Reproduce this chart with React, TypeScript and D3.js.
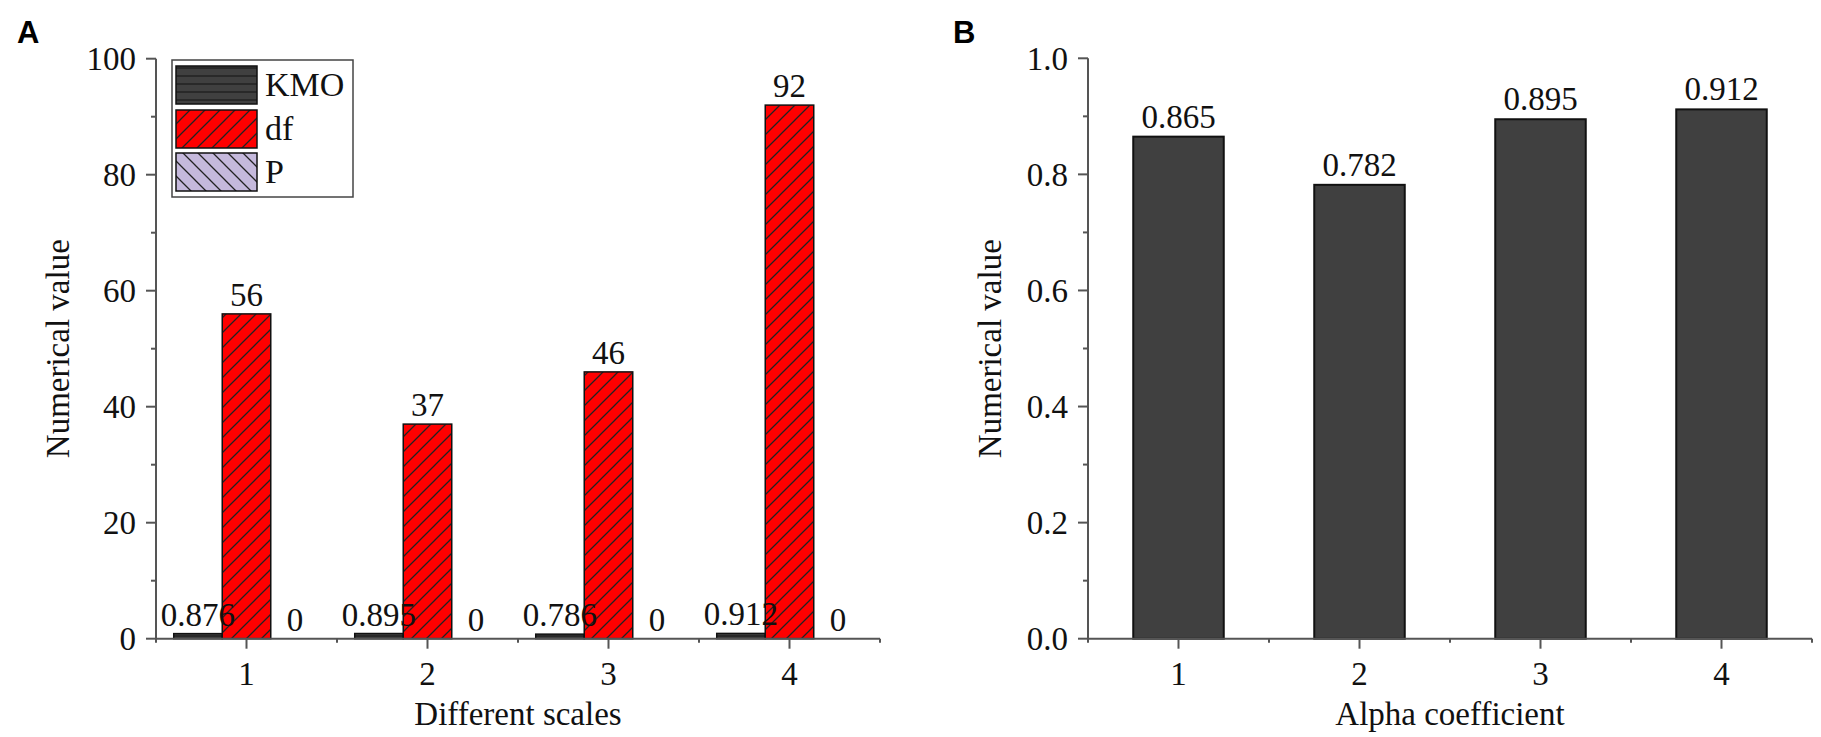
import React from "react"
import * as d3 from "d3"

// panel A: KMO / df / P per scale
const SCALES = [1, 2, 3, 4]
const KMO = [0.876, 0.895, 0.786, 0.912]
const DF = [56, 37, 46, 92]
const P = [0, 0, 0, 0]
const A_TICKS = [0, 20, 40, 60, 80, 100]

// panel B: alpha coefficient per scale
const ALPHA = [0.865, 0.782, 0.895, 0.912]
const B_TICKS = [0, 0.2, 0.4, 0.6, 0.8, 1.0]

const FONT = "'Liberation Serif', 'Times New Roman', serif"
const AXIS = "#555"
const BOTTOM = 638.7
const TOP = 58.7

const SERIES = [
    { name: "KMO", values: KMO, fill: "url(#hatchKMO)", fmt: (v: number) => v.toFixed(3) },
    { name: "df", values: DF, fill: "url(#hatchDF)", fmt: (v: number) => String(v) },
    { name: "P", values: P, fill: "url(#hatchP)", fmt: (v: number) => String(v) },
]

type AxisProps = {
    x: d3.ScaleLinear<number, number>
    y: d3.ScaleLinear<number, number>
    ticks: number[]
    fmt: (v: number) => string
    xLabel: string
    yLabelX: number
}

const Axes = ({ x, y, ticks, fmt, xLabel, yLabelX }: AxisProps) => {
    const [x0, x1] = x.range()
    const step = ticks[1] - ticks[0]
    const minorY = ticks.slice(1).map((t) => t - step / 2)
    const minorX = SCALES.map((s) => s - 0.5).concat([SCALES.length + 0.5])
    return (
        <g fontFamily={FONT} fill="#111">
            <line x1={x0} x2={x0} y1={y.range()[1]} y2={BOTTOM} stroke={AXIS} strokeWidth={2} />
            <line x1={x0 - 1} x2={x1} y1={BOTTOM} y2={BOTTOM} stroke={AXIS} strokeWidth={2} />
            {ticks.map((t) => (
                <g key={t}>
                    <line x1={x0 - 10} x2={x0} y1={y(t)} y2={y(t)} stroke={AXIS} strokeWidth={2} />
                    <text x={x0 - 20} y={y(t)} dy="0.35em" textAnchor="end" fontSize={33}>
                        {fmt(t)}
                    </text>
                </g>
            ))}
            {minorY.map((t) => (
                <line key={t} x1={x0 - 5} x2={x0} y1={y(t)} y2={y(t)} stroke={AXIS} strokeWidth={2} />
            ))}
            {SCALES.map((s) => (
                <g key={s}>
                    <line x1={x(s)} x2={x(s)} y1={BOTTOM} y2={BOTTOM + 10} stroke={AXIS} strokeWidth={2} />
                    <text x={x(s)} y={685} textAnchor="middle" fontSize={33}>
                        {s}
                    </text>
                </g>
            ))}
            {minorX.map((s) => (
                <line key={s} x1={x(s)} x2={x(s)} y1={BOTTOM} y2={BOTTOM + 4} stroke={AXIS} strokeWidth={2} />
            ))}
            <text x={(x0 + x1) / 2} y={725} textAnchor="middle" fontSize={33}>
                {xLabel}
            </text>
            <text
                transform={`translate(${yLabelX},${(TOP + BOTTOM) / 2}) rotate(-90)`}
                textAnchor="middle"
                fontSize={33}
            >
                Numerical value
            </text>
        </g>
    )
}

export default function App() {
    const xA = d3.scaleLinear().domain([0.5, 4.5]).range([156, 880])
    const yA = d3.scaleLinear().domain([0, 100]).range([BOTTOM, TOP])
    const xB = d3.scaleLinear().domain([0.5, 4.5]).range([1088, 1812])
    const yB = d3.scaleLinear().domain([0, 1]).range([BOTTOM, 58.3])

    const step = xA(2) - xA(1)
    const barW = step * 0.268
    const barWB = step * 0.5

    return (
        <svg
            width={1821}
            height={737}
            style={{ position: "absolute", left: 0, top: 0, background: "#fff" }}
        >
            <defs>
                <pattern id="hatchKMO" patternUnits="userSpaceOnUse" width={8} height={8}>
                    <rect width={8} height={8} fill="#404040" />
                    <line x1={0} x2={8} y1={4} y2={4} stroke="#111" strokeWidth={1} />
                </pattern>
                <pattern id="hatchDF" patternUnits="userSpaceOnUse" width={15} height={15}>
                    <rect width={15} height={15} fill="#ff0000" />
                    <path d="M0,15 L15,0 M-3,3 L3,-3 M12,18 L18,12" stroke="#222" strokeWidth={1.3} />
                </pattern>
                <pattern id="hatchP" patternUnits="userSpaceOnUse" width={15} height={15}>
                    <rect width={15} height={15} fill="#c5b9dc" />
                    <path d="M0,0 L15,15 M-3,12 L3,18 M12,-3 L18,3" stroke="#222" strokeWidth={1.3} />
                </pattern>
            </defs>

            {/* panel letters */}
            <text x={17} y={43} fontFamily="'Liberation Sans', Arial, sans-serif" fontWeight="bold" fontSize={31}>
                A
            </text>
            <text x={953} y={43} fontFamily="'Liberation Sans', Arial, sans-serif" fontWeight="bold" fontSize={31}>
                B
            </text>

            {/* panel A bars */}
            {SERIES.map((s, si) =>
                s.values.map((v, i) => {
                    const left = xA(SCALES[i]) + (si - 1.5) * barW
                    return (
                        <rect
                            key={s.name + i}
                            x={left}
                            y={yA(v)}
                            width={barW}
                            height={BOTTOM - yA(v)}
                            fill={s.fill}
                            stroke="#111"
                            strokeWidth={1.5}
                        />
                    )
                })
            )}
            {SERIES.map((s, si) =>
                s.values.map((v, i) => (
                    <text
                        key={"l" + s.name + i}
                        x={xA(SCALES[i]) + (si - 1) * barW}
                        y={yA(v) - 8}
                        textAnchor="middle"
                        fontFamily={FONT}
                        fontSize={33}
                        fill="#111"
                    >
                        {s.fmt(v)}
                    </text>
                ))
            )}
            <Axes x={xA} y={yA} ticks={A_TICKS} fmt={(v) => String(v)} xLabel="Different scales" yLabelX={69} />

            {/* legend */}
            <rect x={172} y={60} width={181} height={137} fill="#fff" stroke="#444" strokeWidth={1.5} />
            {SERIES.map((s, i) => {
                const top = [66, 110, 153][i]
                return (
                    <g key={"leg" + s.name}>
                        <rect x={176} y={top} width={81} height={38} fill={s.fill} stroke="#111" strokeWidth={1.5} />
                        <text x={265} y={top + 30} fontFamily={FONT} fontSize={34} fill="#111">
                            {s.name}
                        </text>
                    </g>
                )
            })}

            {/* panel B bars */}
            {ALPHA.map((v, i) => (
                <g key={"b" + i}>
                    <rect
                        x={xB(SCALES[i]) - barWB / 2}
                        y={yB(v)}
                        width={barWB}
                        height={BOTTOM - yB(v)}
                        fill="#404040"
                        stroke="#111"
                        strokeWidth={2}
                    />
                    <text
                        x={xB(SCALES[i])}
                        y={yB(v) - 9}
                        textAnchor="middle"
                        fontFamily={FONT}
                        fontSize={33}
                        fill="#111"
                    >
                        {v.toFixed(3)}
                    </text>
                </g>
            ))}
            <Axes x={xB} y={yB} ticks={B_TICKS} fmt={d3.format(".1f")} xLabel="Alpha coefficient" yLabelX={1001} />
        </svg>
    )
}
